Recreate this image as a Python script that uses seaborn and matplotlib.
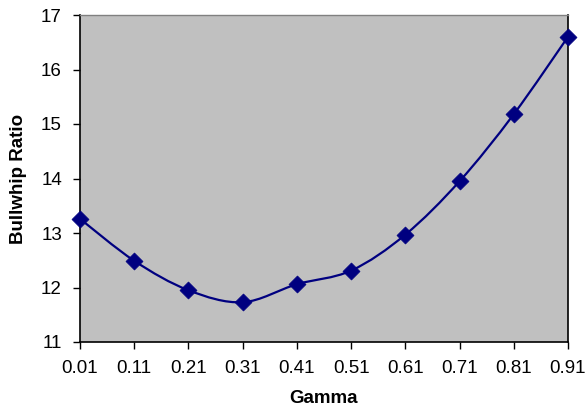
import numpy as np
import pandas as pd
import seaborn as sns
import matplotlib.pyplot as plt
from matplotlib.path import Path
from matplotlib.patches import PathPatch

# === datos ===
gamma = [0.01, 0.11, 0.21, 0.31, 0.41, 0.51, 0.61, 0.71, 0.81, 0.91]
bullwhip = [13.26, 12.49, 11.95, 11.73, 12.06, 12.31, 12.97, 13.95, 15.18, 16.60]
x_ticks = [0.01, 0.11, 0.21, 0.31, 0.41, 0.51, 0.61, 0.71, 0.81, 0.91]
y_ticks = [11, 12, 13, 14, 15, 16, 17]

df = pd.DataFrame({'Gamma': gamma, 'Bullwhip Ratio': bullwhip})

sns.set_style('white')
plt.rcParams['font.family'] = ['Liberation Sans', 'DejaVu Sans']
plt.rcParams['text.color'] = 'black'
plt.rcParams['axes.labelcolor'] = 'black'
plt.rcParams['xtick.color'] = 'black'
plt.rcParams['ytick.color'] = 'black'

navy = '#000080'

fig = plt.figure(figsize=(5.87, 4.07), dpi=100)
ax = fig.add_axes([80 / 587, 65 / 407, 488 / 587, 327 / 407])
ax.set_facecolor('#C0C0C0')

# linea suavizada (estilo Excel) como curva Bezier sobre los puntos
pts = df[['Gamma', 'Bullwhip Ratio']].to_numpy()
verts = [tuple(pts[0])]
codes = [Path.MOVETO]
n = len(pts)
for i in range(n - 1):
    p0 = pts[max(i - 1, 0)]
    p1 = pts[i]
    p2 = pts[i + 1]
    p3 = pts[min(i + 2, n - 1)]
    c1 = p1 + (p2 - p0) / 6
    c2 = p2 - (p3 - p1) / 6
    verts += [tuple(c1), tuple(c2), tuple(p2)]
    codes += [Path.CURVE4] * 3
ax.add_patch(PathPatch(Path(verts, codes), facecolor='none', edgecolor=navy,
                       linewidth=1.6, zorder=2, clip_on=False))

sns.scatterplot(data=df, x='Gamma', y='Bullwhip Ratio', marker='D', s=75,
                color=navy, edgecolor=navy, linewidth=0.5, zorder=3,
                clip_on=False, ax=ax)

ax.set_xlim(0.01, 0.91)
ax.set_ylim(11, 17)
ax.set_xticks(x_ticks)
ax.set_xticklabels([f'{v:.2f}' for v in x_ticks])
ax.set_yticks(y_ticks)
ax.tick_params(axis='both', direction='out', length=5, width=1, color='black',
               labelcolor='black', labelsize=13.5, bottom=True, left=True)
ax.tick_params(axis='x', pad=8)
ax.tick_params(axis='y', pad=8)

for side in ['left', 'bottom', 'right']:
    ax.spines[side].set_color('black')
    ax.spines[side].set_linewidth(1.2)
ax.spines['top'].set_color('#808080')
ax.spines['top'].set_linewidth(1)

ax.set_xlabel('Gamma', fontsize=13.5, fontweight='bold', labelpad=9, color='black')
ax.set_ylabel('Bullwhip Ratio', fontsize=13.5, fontweight='bold', labelpad=10, color='black')
ax.grid(False)

plt.savefig('out.png', dpi=100)
plt.close()
